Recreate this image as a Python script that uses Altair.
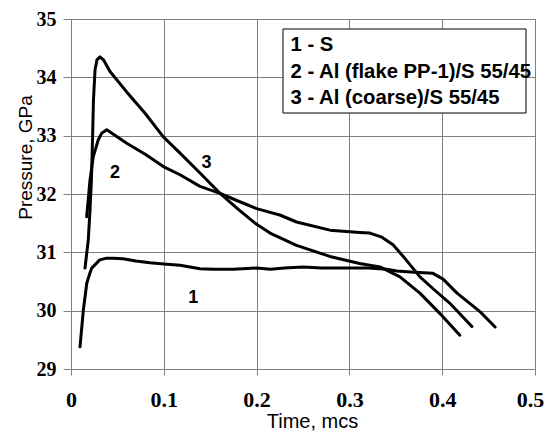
import altair as alt
import pandas as pd

# Series names (legend entries)
series_names = ["1 - S", "2 - Al (flake PP-1)/S 55/45", "3 - Al (coarse)/S 55/45"]

# Curve 1 - S
t1 = [0.0097, 0.0133, 0.017, 0.0205, 0.0223, 0.031, 0.0385, 0.0456, 0.056, 0.07, 0.085, 0.1,
      0.1175, 0.139, 0.153, 0.175, 0.2, 0.215, 0.23, 0.25, 0.27, 0.3, 0.32, 0.34, 0.351, 0.37,
      0.39, 0.401, 0.416, 0.441, 0.457]
p1 = [29.38, 30.01, 30.47, 30.65, 30.73, 30.87, 30.90, 30.90, 30.89, 30.85, 30.82, 30.80,
      30.78, 30.72, 30.71, 30.71, 30.73, 30.71, 30.73, 30.75, 30.73, 30.73, 30.73, 30.71, 30.68, 30.66,
      30.64, 30.54, 30.30, 29.98, 29.72]

# Curve 2 - Al (flake PP-1)/S 55/45
t2 = [0.0169, 0.0205, 0.024, 0.0294, 0.033, 0.0385, 0.06, 0.08, 0.0995, 0.1175, 0.139, 0.1606,
      0.18, 0.2, 0.225, 0.243, 0.279, 0.311, 0.322, 0.335, 0.347, 0.358, 0.376, 0.392, 0.408, 0.432]
p2 = [31.61, 32.24, 32.64, 32.93, 33.04, 33.10, 32.87, 32.68, 32.47, 32.33, 32.13, 32.01,
      31.88, 31.75, 31.64, 31.52, 31.38, 31.34, 31.33, 31.26, 31.13, 30.93, 30.58, 30.35, 30.13, 29.73]

# Curve 3 - Al (coarse)/S 55/45
t3 = [0.0151, 0.0186, 0.0205, 0.022, 0.0232, 0.0242, 0.0259, 0.028, 0.0312, 0.035, 0.042, 0.06,
      0.08, 0.0995, 0.1175, 0.139, 0.1606, 0.18, 0.2, 0.2145, 0.243, 0.279, 0.311, 0.333, 0.3545,
      0.376, 0.3976, 0.419]
p3 = [30.73, 31.21, 31.73, 32.24, 32.93, 33.61, 34.13, 34.30, 34.35, 34.30, 34.10, 33.75,
      33.38, 32.98, 32.70, 32.36, 32.01, 31.74, 31.48, 31.33, 31.12, 30.93, 30.81, 30.75, 30.58,
      30.30, 29.95, 29.58]

# Curve number annotations
ann_text = ["1", "2", "3"]
ann_t = [0.1318, 0.0474, 0.146]
ann_p = [30.21, 32.365, 32.53]

x_ticks = [0, 0.1, 0.2, 0.3, 0.4, 0.5]
y_ticks = [29, 30, 31, 32, 33, 34, 35]

rows = []
for name, ts, ps in zip(series_names, [t1, t2, t3], [p1, p2, p3]):
    for i, (t, p) in enumerate(zip(ts, ps)):
        rows.append({"series": name, "t": t, "p": p, "order": i})
df = pd.DataFrame(rows)
ann = pd.DataFrame({"label": ann_text, "t": ann_t, "p": ann_p})

xscale = alt.Scale(domain=[0, 0.5], nice=False)
yscale = alt.Scale(domain=[29, 35], nice=False)

lines = alt.Chart(df).mark_line(strokeWidth=3, strokeJoin="round", strokeCap="round").encode(
    x=alt.X("t:Q", scale=xscale, axis=alt.Axis(
        values=x_ticks, title="Time, mcs",
        labelExpr="datum.value == 0 ? '0' : format(datum.value, '.1f')",
        labelFont="Liberation Serif", labelFontWeight="bold", labelFontSize=22,
        labelPadding=14, tickSize=6, labelFlush=False,
        labelOffset={"condition": {"test": "datum.value == 0.5", "value": -5}, "value": 0},
        titleFont="Liberation Sans", titleFontWeight="normal", titleFontSize=20,
        titleX=241, titleY=58, titleBaseline="alphabetic", titleAlign="center")),
    y=alt.Y("p:Q", scale=yscale, axis=alt.Axis(
        values=y_ticks, title="Pressure, GPa", format="d",
        labelFont="Liberation Serif", labelFontWeight="bold", labelFontSize=20,
        labelPadding=7, tickSize=8, labelFlush=False,
        titleFont="Liberation Sans", titleFontWeight="normal", titleFontSize=19,
        titleX=-40, titleY=138, titleBaseline="alphabetic", titleAlign="center")),
    color=alt.Color("series:N", scale=alt.Scale(domain=series_names, range=["black"] * 3),
                    legend=None),
    order="order:Q",
)

labels = alt.Chart(ann).mark_text(font="Liberation Sans", fontWeight="bold", fontSize=18,
                                  color="black", align="center", baseline="middle").encode(
    x=alt.X("t:Q", scale=xscale), y=alt.Y("p:Q", scale=yscale), text="label:N")

# Legend box (white with black frame) and its three text lines
legend_box = alt.Chart(pd.DataFrame({"k": [0]})).mark_rect(
    fill="white", stroke="black", strokeWidth=1).encode(
    x=alt.value(212), x2=alt.value(455), y=alt.value(10), y2=alt.value(94))

legend_texts = []
for i, name in enumerate(series_names):
    legend_texts.append(
        alt.Chart(pd.DataFrame({"name": [name]})).mark_text(
            font="Liberation Sans", fontWeight="bold", fontSize=20.3, color="black",
            align="left", baseline="middle").encode(
            x=alt.value(219.5), y=alt.value(26 + i * 26.5), text="name:N"))

chart = alt.layer(lines, labels, legend_box, *legend_texts).properties(
    width=464, height=350,
    autosize=alt.AutoSizeParams(type="none"),
    padding={"left": 63, "top": 11, "right": 9, "bottom": 63},
    background="white",
).configure_axis(
    grid=True, gridColor="#808080", gridWidth=1, gridOpacity=1,
    domainColor="#808080", domainWidth=1, tickColor="#808080", tickWidth=1,
    labelColor="black", titleColor="black",
).configure_view(stroke="#808080", strokeWidth=1)

chart.save("out.html", embed_options={"renderer": "svg", "actions": False})
